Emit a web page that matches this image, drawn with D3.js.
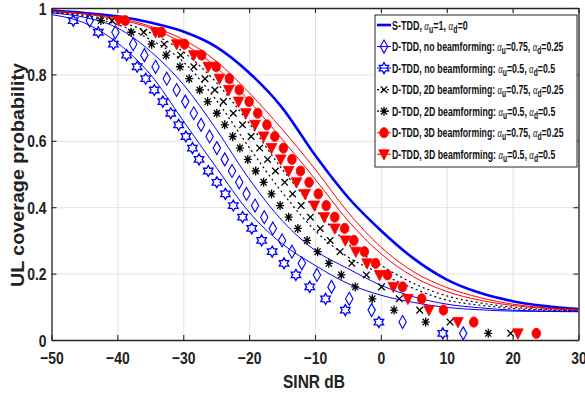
<!DOCTYPE html>
<html><head><meta charset="utf-8">
<script src="https://cdn.jsdelivr.net/npm/d3@7"></script>
<style>body{margin:0;background:#fff}svg{display:block}</style>
</head><body><svg id="c" width="585" height="397"></svg>
<script>
// ---------- data ----------
const xTicks=[-50,-40,-30,-20,-10,0,10,20,30];
const yTicks=[0,0.2,0.4,0.6,0.8,1];
const yTickLabels=["0","0.2","0.4","0.6","0.8","1"];

// analytical curves (SINR grid in dB)
const lineSINR=[-50,-45,-40,-35,-30,-25,-20,-15,-10,-5,0,5,10,15,20,25,30];
const sTDD      =[0.992,0.985,0.975,0.956,0.929,0.883,0.805,0.700,0.557,0.430,0.330,0.245,0.182,0.142,0.117,0.102,0.093];
const noBF75Line=[0.985,0.972,0.940,0.870,0.770,0.635,0.485,0.360,0.270,0.215,0.165,0.130,0.108,0.097,0.090,0.087,0.086];
const noBF50Line=[0.980,0.955,0.895,0.800,0.660,0.520,0.385,0.290,0.225,0.170,0.135,0.113,0.098,0.091,0.087,0.086,0.085];
const bf2D75Line=[0.988,0.978,0.960,0.925,0.868,0.776,0.653,0.515,0.395,0.290,0.225,0.170,0.133,0.112,0.099,0.092,0.089];
const bf2D50Line=[0.987,0.975,0.950,0.905,0.838,0.723,0.580,0.445,0.330,0.250,0.200,0.155,0.120,0.105,0.095,0.090,0.088];
const bf3D75Line=[0.990,0.983,0.970,0.945,0.905,0.840,0.745,0.635,0.515,0.385,0.280,0.205,0.158,0.128,0.108,0.097,0.091];
const bf3D50Line=[0.990,0.982,0.966,0.940,0.893,0.822,0.720,0.605,0.485,0.360,0.260,0.190,0.146,0.120,0.104,0.095,0.090];

// simulated points: coverage levels and SINR (dB) at each level
const simProb=[0.962,0.927,0.891,0.858,0.823,0.787,0.753,0.718,0.683,0.648,0.613,0.578,0.544,0.509,0.475,0.440,0.405,0.370,0.336,0.300,0.266,0.231,0.196,0.160,0.124,0.090,0.054,0.020];
const noBF75Sim=[-44.2,-40.3,-37.6,-35.9,-34.2,-32.5,-31.0,-29.7,-28.4,-27.3,-26.0,-24.9,-23.7,-22.6,-21.5,-20.4,-19.1,-17.7,-16.4,-15.0,-13.5,-12.0,-9.7,-7.5,-4.8,-1.4,3.3,12.5];
const noBF50Sim=[-46.7,-42.9,-40.6,-38.6,-37.0,-35.7,-34.4,-33.1,-31.9,-30.7,-29.6,-28.6,-27.6,-26.2,-24.9,-23.6,-22.4,-21.0,-19.6,-18.1,-16.5,-14.7,-12.9,-10.8,-8.4,-5.4,-0.3,9.4];
const bf2D75Sim=[-40.8,-36.0,-32.9,-30.4,-28.4,-26.7,-25.2,-23.9,-22.4,-21.0,-19.7,-18.4,-17.2,-16.0,-14.6,-13.4,-12.1,-10.7,-9.2,-7.7,-6.2,-4.4,-2.2,0.1,2.8,5.9,10.5,19.7];
const bf2D50Sim=[-42.5,-37.9,-34.8,-32.6,-30.5,-29.1,-27.5,-26.3,-24.9,-23.7,-22.5,-21.4,-20.2,-19.0,-17.8,-16.6,-15.3,-14.0,-12.6,-11.2,-9.6,-7.9,-6.0,-3.9,-1.3,2.0,6.8,16.3];
const bf3D75Sim=[-38.8,-33.3,-29.8,-27.2,-25.0,-23.0,-21.5,-20.0,-18.7,-17.3,-16.1,-14.8,-13.5,-12.2,-10.9,-9.5,-8.3,-7.0,-5.5,-4.1,-2.5,-0.8,1.0,3.3,6.2,9.5,14.1,23.6];
const bf3D50Sim=[-39.8,-34.2,-31.0,-28.4,-26.2,-24.5,-23.1,-21.6,-20.5,-19.1,-17.8,-16.6,-15.2,-14.0,-12.8,-11.5,-10.1,-8.6,-7.0,-5.4,-3.8,-2.1,-0.2,1.9,4.1,7.3,11.7,20.8];

const legendNames=["S-TDD, ","D-TDD, no beamforming: ","D-TDD, no beamforming: ","D-TDD, 2D beamforming: ","D-TDD, 2D beamforming: ","D-TDD, 3D beamforming: ","D-TDD, 3D beamforming: "];
const legendAu=["1","0.75","0.5","0.75","0.5","0.75","0.5"];
const legendAd=["0","0.25","0.5","0.25","0.5","0.25","0.5"];

// ---------- setup ----------
const svg=d3.select("#c");
const m={l:51.5,r:578.5,t:8,b:340};
const x=d3.scaleLinear().domain([-50,30]).range([m.l,m.r]);
const y=d3.scaleLinear().domain([0,1]).range([m.b,m.t]);
const FONT="'Liberation Sans', Arial, sans-serif";
const AX="#262626";

// grid
svg.append("g").attr("transform",`translate(0,${m.b})`)
  .call(d3.axisBottom(x).tickValues(xTicks).tickSize(-(m.b-m.t)).tickFormat(""))
  .call(g=>{g.select(".domain").remove();g.selectAll("line").attr("stroke","#e3e3e3").attr("stroke-width",1);});
svg.append("g").attr("transform",`translate(${m.l},0)`)
  .call(d3.axisLeft(y).tickValues(yTicks).tickSize(-(m.r-m.l)).tickFormat(""))
  .call(g=>{g.select(".domain").remove();g.selectAll("line").attr("stroke","#e3e3e3").attr("stroke-width",1);});

// clip
svg.append("defs").append("clipPath").attr("id","pc").append("rect")
  .attr("x",m.l).attr("y",m.t-6).attr("width",m.r-m.l).attr("height",m.b-m.t+6);

const plot=svg.append("g").attr("clip-path","url(#pc)");
const line=d3.line().x((d,i)=>x(lineSINR[i])).y(d=>y(d)).curve(d3.curveMonotoneX);

const series=[
 {line:sTDD,color:"#0000ff",w:2.6,dash:null,sim:null,mk:null},
 {line:noBF75Line,color:"#0000ff",w:1,dash:null,sim:noBF75Sim,mk:"diamond"},
 {line:noBF50Line,color:"#0000ff",w:1,dash:null,sim:noBF50Sim,mk:"hexagram"},
 {line:bf2D75Line,color:"#000000",w:1.2,dash:"2,3",sim:bf2D75Sim,mk:"x"},
 {line:bf2D50Line,color:"#000000",w:1.2,dash:"2,3",sim:bf2D50Sim,mk:"asterisk"},
 {line:bf3D75Line,color:"#ff0000",w:1,dash:null,sim:bf3D75Sim,mk:"circle"},
 {line:bf3D50Line,color:"#ff0000",w:1,dash:null,sim:bf3D50Sim,mk:"tri"}
];

function hexPath(R){const p=[];for(let k=0;k<12;k++){const a=(-90+k*30)*Math.PI/180;const r=k%2?R/Math.sqrt(3):R;p.push([r*Math.cos(a),r*Math.sin(a)]);}return "M"+p.map(q=>q[0].toFixed(2)+","+q[1].toFixed(2)).join("L")+"Z";}
const shapes={
 diamond:"M0,-6.5L3.7,0L0,6.5L-3.7,0Z",
 hexagram:hexPath(5.5),
 x:"M-3.3,-3.3L3.3,3.3M-3.3,3.3L3.3,-3.3",
 asterisk:"M-4,0L4,0M0,-4.5L0,4.5M-3,-3.3L3,3.3M-3,3.3L3,-3.3",
 circle:"M-4.3,0A4.3,5.1 0 1,0 4.3,0A4.3,5.1 0 1,0 -4.3,0Z",
 tri:"M-5.3,-4.5L5.3,-4.5L0,5.8Z"
};
function drawMarker(g,mk,color){
  const p=g.append("path").attr("d",shapes[mk]);
  if(mk==="circle"||mk==="tri") p.attr("fill",color).attr("stroke",color).attr("stroke-width",0.8);
  else p.attr("fill","none").attr("stroke",color).attr("stroke-width",mk==="diamond"?1.1:1.3);
}

series.forEach(s=>{
  plot.append("path").datum(s.line).attr("d",line).attr("fill","none")
    .attr("stroke",s.color).attr("stroke-width",s.w).attr("stroke-dasharray",s.dash);
});
series.forEach(s=>{
  if(!s.sim) return;
  s.sim.forEach((v,i)=>{
    const g=plot.append("g").attr("transform",`translate(${x(v)},${y(simProb[i])})`);
    drawMarker(g,s.mk,s.color);
  });
});

// axes
function styleAxis(g){g.select(".domain").attr("stroke",AX).attr("stroke-width",1.3);g.selectAll(".tick line").attr("stroke",AX).attr("stroke-width",1.1);}
svg.append("g").attr("transform",`translate(0,${m.t})`)
  .call(d3.axisTop(x).tickValues(xTicks).tickSizeInner(-5).tickSizeOuter(0).tickFormat("")).call(styleAxis);
svg.append("g").attr("transform",`translate(${m.r},0)`)
  .call(d3.axisRight(y).tickValues(yTicks).tickSizeInner(-5).tickSizeOuter(0).tickFormat("")).call(styleAxis);
const xa=svg.append("g").attr("transform",`translate(0,${m.b})`)
  .call(d3.axisBottom(x).tickValues(xTicks).tickSizeInner(-5).tickSizeOuter(0).tickPadding(13).tickFormat(d3.format("d"))).call(styleAxis);
xa.selectAll("text").attr("font-family",FONT).attr("font-weight","bold").attr("font-size",17)
  .attr("fill","#222").attr("dy","0.62em").attr("transform","scale(0.82,1)");
const ya=svg.append("g").attr("transform",`translate(${m.l},0)`)
  .call(d3.axisLeft(y).tickValues(yTicks).tickSizeInner(-5).tickSizeOuter(0).tickPadding(5).tickFormat((d,i)=>yTickLabels[i])).call(styleAxis);
ya.selectAll("text").attr("font-family",FONT).attr("font-weight","bold").attr("font-size",17)
  .attr("fill","#222").attr("x",-5/0.82).attr("dy","0.36em").attr("transform","scale(0.82,1)");

// axis labels
svg.append("text").attr("x",314).attr("y",388).attr("text-anchor","middle")
  .attr("font-family",FONT).attr("font-weight","bold").attr("font-size",19).attr("fill","#222")
  .attr("textLength",62).attr("lengthAdjust","spacingAndGlyphs").text("SINR dB");
svg.append("text").attr("transform","translate(24,175) rotate(-90)").attr("text-anchor","middle")
  .attr("font-family",FONT).attr("font-weight","bold").attr("font-size",18).attr("fill","#222")
  .attr("textLength",224).attr("lengthAdjust","spacingAndGlyphs").text("UL coverage probability");

// legend
const lg=svg.append("g");
lg.append("rect").attr("x",375).attr("y",15).attr("width",202).attr("height",152)
  .attr("fill","#fff").attr("stroke",AX).attr("stroke-width",1);
const widths=[75.7,171.5,163.3,171.5,163.3,171.5,163.3];
series.forEach((s,i)=>{
  const cy=25+i*21.55;
  lg.append("line").attr("x1",377).attr("x2",391).attr("y1",cy).attr("y2",cy)
    .attr("stroke",s.color).attr("stroke-width",s.w).attr("stroke-dasharray",s.dash);
  if(s.mk){const g=lg.append("g").attr("transform",`translate(384,${cy})`);drawMarker(g,s.mk,s.color);}
  const tg=lg.append("g");
  const t=tg.append("text").attr("x",0).attr("y",0).attr("font-family",FONT).attr("font-weight","bold")
    .attr("font-size",13).attr("fill","#111");
  t.append("tspan").text(legendNames[i]);
  t.append("tspan").attr("font-family","'Liberation Serif',serif").attr("font-weight","normal").attr("font-style","italic").text("α");
  t.append("tspan").attr("dy",3).attr("font-size",10).text("u");
  t.append("tspan").attr("dy",-3).text("="+legendAu[i]+", ");
  t.append("tspan").attr("font-family","'Liberation Serif',serif").attr("font-weight","normal").attr("font-style","italic").text("α");
  t.append("tspan").attr("dy",3).attr("font-size",10).text("d");
  t.append("tspan").attr("dy",-3).text("="+legendAd[i]);
  const w=t.node().getComputedTextLength()||widths[i];
  tg.attr("transform",`translate(392,${cy+4.5}) scale(${widths[i]/w},1)`);
});
</script></body></html>
